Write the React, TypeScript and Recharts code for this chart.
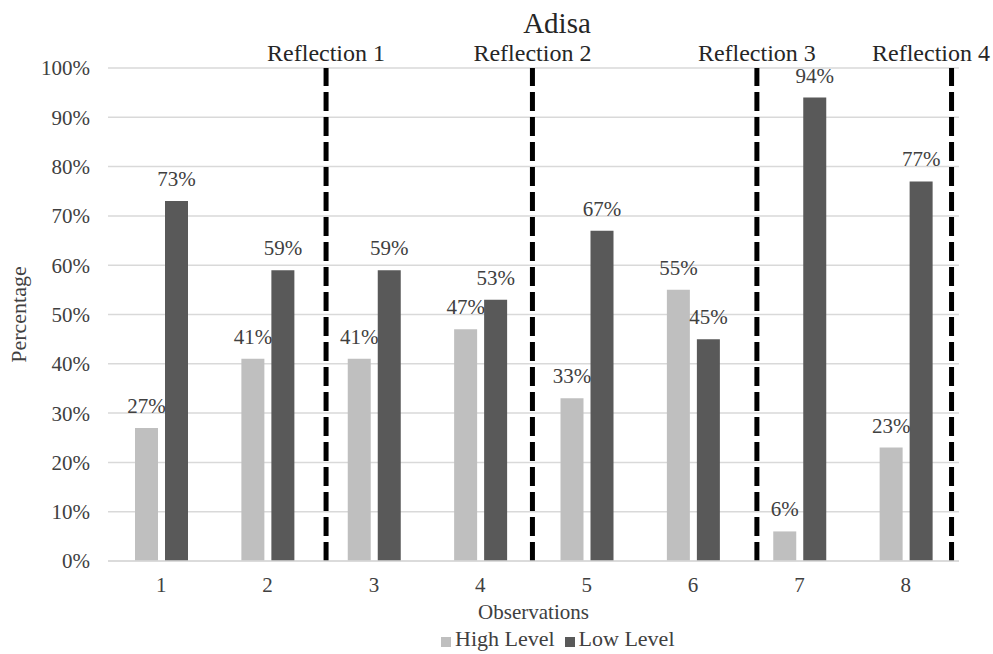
import React from "react";
import {
  BarChart,
  Bar,
  XAxis,
  YAxis,
  CartesianGrid,
  ReferenceLine,
  Legend,
  LabelList,
} from "recharts";

const observations = ["1", "2", "3", "4", "5", "6", "7", "8"];
const highLevel = [27, 41, 41, 47, 33, 55, 6, 23];
const lowLevel = [73, 59, 59, 53, 67, 45, 94, 77];
const percentTicks = [0, 10, 20, 30, 40, 50, 60, 70, 80, 90, 100];
const reflectionNames = ["Reflection 1", "Reflection 2", "Reflection 3", "Reflection 4"];
// where each reflection falls, in observation units
const reflectionAt = [2.55, 4.49, 6.6, 8.43];

const CHART_W = 993;
const CHART_H = 654;
const FONT = '"Liberation Serif", "Times New Roman", serif';
const TEXT = "#404040";

const data = observations.map((obs, i) => ({
  obs,
  pos: Number(obs),
  high: highLevel[i],
  low: lowLevel[i],
}));

const reflectionLabel = (name: string) => (props: any) => {
  const { viewBox } = props;
  const x = viewBox.x;
  const clamp = x + 62 > CHART_W - 3;
  return (
    <text
      x={clamp ? CHART_W - 3 : x}
      y={viewBox.y - 7}
      textAnchor={clamp ? "end" : "middle"}
      fontFamily={FONT}
      fontSize={24}
      fill="#262626"
    >
      {name}
    </text>
  );
};

const yTitle = (props: any) => {
  const { viewBox } = props;
  const cy = viewBox.y + viewBox.height / 2;
  return (
    <text
      x={18}
      y={cy}
      transform={`rotate(-90, 18, ${cy})`}
      textAnchor="middle"
      dominantBaseline="central"
      fontFamily={FONT}
      fontSize={22}
      fill={TEXT}
    >
      Percentage
    </text>
  );
};

const xTitle = (props: any) => {
  const { viewBox } = props;
  return (
    <text
      x={viewBox.x + viewBox.width / 2}
      y={viewBox.y + 58}
      textAnchor="middle"
      fontFamily={FONT}
      fontSize={21}
      fill={TEXT}
    >
      Observations
    </text>
  );
};

const legendText = (value: string) => (
  <span style={{ color: TEXT, fontFamily: FONT, fontSize: 22 }}>{value}</span>
);

export default function App() {
  return (
    <div style={{ position: "absolute", left: 0, top: 0, background: "#fff" }}>
      <BarChart
        width={CHART_W}
        height={CHART_H}
        data={data}
        margin={{ top: 68, right: 34, left: 0, bottom: 0 }}
        barSize={23}
        barGap={7}
      >
        <text
          x={557}
          y={33}
          textAnchor="middle"
          fontFamily={FONT}
          fontSize={29}
          fill="#262626"
        >
          Adisa
        </text>
        <CartesianGrid vertical={false} stroke="#D9D9D9" strokeWidth={1.5} />
        <XAxis
          dataKey="obs"
          height={93}
          tickLine={false}
          tickMargin={10}
          axisLine={{ stroke: "#D9D9D9", strokeWidth: 1.5 }}
          tick={{ fill: TEXT, fontFamily: FONT, fontSize: 21 }}
          label={xTitle}
        />
        <XAxis
          xAxisId="ref"
          dataKey="pos"
          type="number"
          domain={[0.5, 8.5]}
          allowDataOverflow
          hide
        />
        <YAxis
          width={108}
          domain={[0, 100]}
          ticks={percentTicks}
          tickFormatter={(v) => `${v}%`}
          tickLine={false}
          axisLine={false}
          tickMargin={12}
          tick={{ fill: TEXT, fontFamily: FONT, fontSize: 21 }}
          label={yTitle}
        />
        <Legend
          layout="horizontal"
          verticalAlign="middle"
          align="center"
          iconType="square"
          iconSize={10}
          formatter={legendText}
          wrapperStyle={{ top: 626, left: 441, width: "auto", bottom: "auto" }}
        />
        <Bar dataKey="high" name="High Level" fill="#BFBFBF" isAnimationActive={false}>
          <LabelList
            dataKey="high"
            position="top"
            offset={15}
            formatter={(v: any) => `${v}%`}
            style={{ fill: TEXT, fontFamily: FONT, fontSize: 21 }}
          />
        </Bar>
        <Bar dataKey="low" name="Low Level" fill="#595959" isAnimationActive={false}>
          <LabelList
            dataKey="low"
            position="top"
            offset={15}
            formatter={(v: any) => `${v}%`}
            style={{ fill: TEXT, fontFamily: FONT, fontSize: 21 }}
          />
        </Bar>
        {reflectionAt.map((x, i) => (
          <ReferenceLine
            key={reflectionNames[i]}
            xAxisId="ref"
            x={x}
            stroke="#000"
            strokeWidth={5}
            strokeDasharray="19 6"
            label={reflectionLabel(reflectionNames[i])}
          />
        ))}
      </BarChart>
    </div>
  );
}
